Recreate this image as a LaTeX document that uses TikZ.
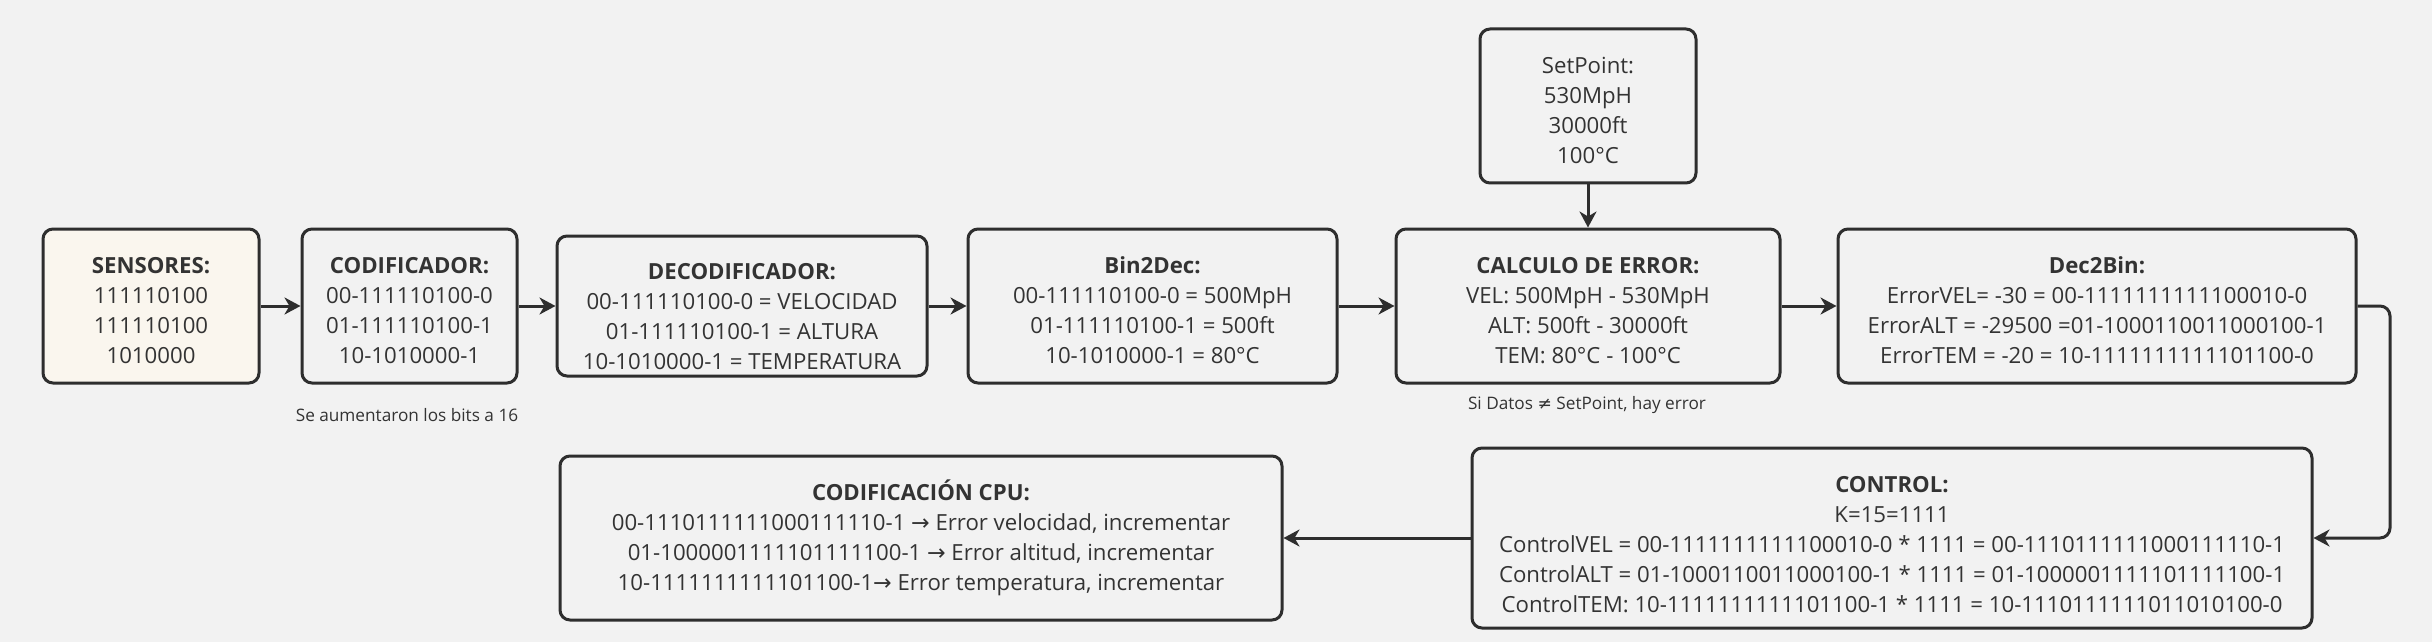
\documentclass[tikz,border=0pt]{standalone}
\usepackage{fontspec}
\setmainfont{Open Sans}
\newfontfamily\symfont{DejaVu Sans}
\usetikzlibrary{arrows.meta}
\definecolor{bgcol}{HTML}{F2F2F2}
\definecolor{inkcol}{HTML}{2E2E2E}
\definecolor{creamcol}{HTML}{FAF6EE}
\definecolor{txtcol}{HTML}{333333}
\newcommand{\arr}{{\symfont\char"2192}}
% first line pushed down, as in the original layout
\newcommand{\lift}[1][12.5pt]{\rule{0pt}{#1}}
\begin{document}
\begin{tikzpicture}[x=0.5pt,y=-0.5pt,
  box/.style={draw=inkcol, line width=1.5pt, rounded corners=5pt, fill=bgcol,
    align=center, text=txtcol, inner sep=0pt,
    font=\fontsize{11.1}{15}\selectfont},
  note/.style={text=txtcol, inner sep=0pt, font=\fontsize{8.6}{10}\selectfont},
  flow/.style={draw=inkcol, line width=1.5pt,
    -{Stealth[length=8pt,width=8.5pt,inset=2.5pt]}}
]
    \fill[bgcol] (0,0) rectangle (2432,642);
    \useasboundingbox (0,0) rectangle (2432,642);

    \node[box, fill=creamcol, minimum width=108pt, minimum height=77pt] (sens) at (151,306)
        {\lift\textbf{SENSORES:}\\111110100\\111110100\\1010000};
    \node[box, minimum width=107.5pt, minimum height=77pt] (cod) at (409.5,306)
        {\lift\textbf{CODIFICADOR:}\\00-111110100-0\\01-111110100-1\\10-1010000-1};
    \node[box, minimum width=185pt, minimum height=70pt] (dec) at (742,306)
        {\lift[19pt]\textbf{DECODIFICADOR:}\\00-111110100-0 = VELOCIDAD\\01-111110100-1 = ALTURA\\10-1010000-1 = TEMPERATURA};
    \node[box, minimum width=184.5pt, minimum height=77pt] (bin2dec) at (1152.5,306)
        {\lift\textbf{Bin2Dec:}\\00-111110100-0 = 500MpH\\01-111110100-1 = 500ft\\10-1010000-1 = 80°C};
    \node[box, minimum width=108pt, minimum height=77pt] (setpoint) at (1588,106)
        {\lift SetPoint:\\530MpH\\30000ft\\100°C};
    \node[box, minimum width=192pt, minimum height=77pt] (error) at (1588,306)
        {\lift\textbf{CALCULO DE ERROR:}\\VEL: 500MpH - 530MpH\\ALT: 500ft - 30000ft\\TEM: 80°C - 100°C};
    \node[box, minimum width=259pt, minimum height=77pt] (dec2bin) at (2097,306)
        {\lift\textbf{Dec2Bin:}\\ErrorVEL= -30 = 00-1111111111100010-0\\ErrorALT = -29500 =01-1000110011000100-1\\ErrorTEM = -20 = 10-1111111111101100-0};
    \node[box, minimum width=420pt, minimum height=90pt] (control) at (1892,538)
        {\lift[15pt]\textbf{CONTROL:}\\K=15=1111\\ControlVEL = 00-1111111111100010-0 * 1111 = 00-1110111111000111110-1\\ControlALT = 01-1000110011000100-1 * 1111 = 01-1000001111101111100-1\\ControlTEM: 10-1111111111101100-1 * 1111 = 10-1110111111011010100-0};
    \node[box, minimum width=361pt, minimum height=82pt] (cpu) at (921,538)
        {\textbf{CODIFICACIÓN CPU:}\\00-1110111111000111110-1 \arr{} Error velocidad, incrementar\\01-1000001111101111100-1 \arr{} Error altitud, incrementar\\10-1111111111101100-1\arr{} Error temperatura, incrementar};

    \node[note] (bitsnote) at (407,415) {Se aumentaron los bits a 16};
    \node[note] (errnote) at (1587,405) {Si Datos {\symfont\char"2260} SetPoint, hay error};

    \coordinate (turn1) at (2390,306);
    \coordinate (turn2) at (2390,538);

    \draw[flow] (sens) -- (cod);
    \draw[flow] (cod) -- (dec);
    \draw[flow] (dec) -- (bin2dec);
    \draw[flow] (bin2dec) -- (error);
    \draw[flow] (setpoint) -- (error);
    \draw[flow] (error) -- (dec2bin);
    \draw[flow, rounded corners=5pt] (dec2bin.east) -- (turn1) -- (turn2) -- (control.east);
    \draw[flow] (control) -- (cpu);
\end{tikzpicture}
\end{document}
